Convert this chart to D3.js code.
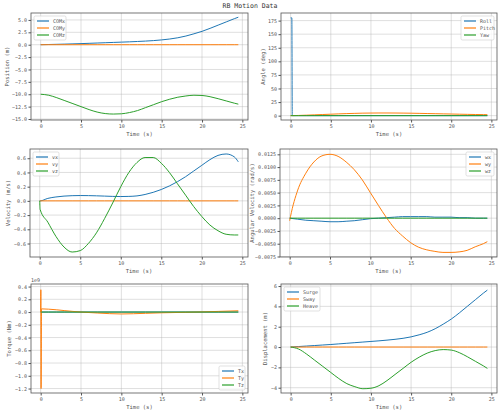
<!DOCTYPE html>
<html><head><meta charset="utf-8">
<script src="https://cdn.jsdelivr.net/npm/d3@7"></script>
<style>body{margin:0;background:#fff}text{font-family:"DejaVu Sans Mono",monospace}</style>
</head><body><svg id="c" width="500" height="413"></svg>
<script>
const T = [0,1,2,3,4,5,6,7,8,9,10,11,12,13,14,15,16,17,18,19,20,21,22,23,24,24.5];
const comX = [0,0.04,0.08,0.12,0.17,0.22,0.28,0.34,0.4,0.46,0.52,0.58,0.65,0.73,0.83,0.97,1.15,1.4,1.75,2.2,2.7,3.3,3.95,4.6,5.25,5.55];
const comY = T.map(()=>0);
const comZ = [-10,-10.2,-10.7,-11.3,-11.9,-12.5,-13.1,-13.6,-13.9,-14.0,-13.95,-13.7,-13.3,-12.7,-12.1,-11.5,-11.0,-10.6,-10.35,-10.2,-10.25,-10.5,-10.9,-11.35,-11.8,-12.0];
const rollT = [0,0.05,0.15,0.2,1,24.5];
const roll = [180,180,180,0,0,0];
const pitch = [0,0.4,0.9,1.5,2.1,2.7,3.3,3.8,4.2,4.6,4.8,4.9,4.9,4.85,4.7,4.5,4.2,3.9,3.6,3.3,3.0,2.7,2.4,2.1,1.9,1.8];
const yaw = T.map(()=>0);
const vT = [0,0.05].concat(T.slice(1));
const vx = [0,0,0.035,0.055,0.067,0.073,0.075,0.074,0.071,0.067,0.063,0.061,0.063,0.07,0.09,0.12,0.16,0.21,0.27,0.34,0.42,0.5,0.58,0.64,0.66,0.62,0.55];
const vy = vT.map(()=>0);
const vz = [0,-0.12,-0.3,-0.5,-0.65,-0.72,-0.7,-0.6,-0.45,-0.25,-0.03,0.2,0.4,0.54,0.61,0.61,0.53,0.4,0.24,0.08,-0.08,-0.22,-0.34,-0.42,-0.47,-0.48,-0.48];
const wx = [0,-0.0002,-0.0004,-0.0005,-0.0006,-0.0007,-0.0007,-0.0006,-0.0005,-0.0003,-0.0001,0,0.0001,0.0002,0.0003,0.0003,0.0003,0.0003,0.0002,0.0002,0.0002,0.0001,0.0001,0,0,0];
const wyT = [0,0.1].concat(T.slice(1));
const wy = [-0.0005,0.0003,0.0055,0.0088,0.011,0.0122,0.0125,0.0121,0.011,0.0095,0.0075,0.005,0.0025,0.0001,-0.002,-0.0035,-0.0048,-0.0057,-0.0062,-0.0065,-0.0067,-0.0067,-0.0066,-0.0063,-0.0056,-0.005,-0.0046];
const wz = T.map(()=>0);
const tqT = [0,0.02,0.05,0.1,1,2,3,4,5,7,10,13,15,18,20,22,24.5];
const tx = tqT.map(()=>0);
const ty = [0,0.35,-1.2,0.05,0.045,0.035,0.022,0.01,0,-0.015,-0.03,-0.02,-0.012,-0.004,0.002,0.01,0.02];
const tz = tqT.map(()=>0);
const surge = [0,0.05,0.1,0.15,0.2,0.25,0.31,0.37,0.43,0.49,0.55,0.61,0.68,0.76,0.86,1.0,1.2,1.45,1.8,2.25,2.75,3.35,4.0,4.65,5.3,5.6];
const sway = T.map(()=>0);
const heave = [0,-0.2,-0.7,-1.3,-1.9,-2.5,-3.1,-3.6,-3.9,-4.1,-4.05,-3.8,-3.3,-2.7,-2.1,-1.5,-1.0,-0.6,-0.35,-0.25,-0.3,-0.55,-0.95,-1.4,-1.85,-2.1];
const xTicks = [0,5,10,15,20,25];
const C = ["#1f77b4","#ff7f0e","#2ca02c"];

const svg = d3.select("#c");
svg.append("text").attr("x",250).attr("y",8).attr("text-anchor","middle").attr("font-size",6.5).attr("fill","#333").text("RB Motion Data");

function panel(o){
  const x = d3.scaleLinear().domain([-1.2,25.7]).range([o.l,o.r]);
  const y = d3.scaleLinear().domain(o.yd).range([o.b,o.t]);
  const g = svg.append("g");
  g.append("rect").attr("x",o.l).attr("y",o.t).attr("width",o.r-o.l).attr("height",o.b-o.t).attr("fill","#fff");
  xTicks.forEach(v=>{g.append("line").attr("x1",x(v)).attr("x2",x(v)).attr("y1",o.t).attr("y2",o.b).attr("stroke","#b0b0b0").attr("stroke-opacity",0.5).attr("stroke-width",0.8);});
  o.yt.forEach(v=>{g.append("line").attr("x1",o.l).attr("x2",o.r).attr("y1",y(v)).attr("y2",y(v)).attr("stroke","#b0b0b0").attr("stroke-opacity",0.5).attr("stroke-width",0.8);});
  const line = d3.line().curve(d3.curveMonotoneX).x(d=>x(d[0])).y(d=>y(d[1]));
  o.series.forEach((s,i)=>{
    g.append("path").attr("d",line(s.t.map((t,j)=>[t,s.v[j]]))).attr("fill","none").attr("stroke",C[i]).attr("stroke-width",s.w||1);
  });
  g.append("rect").attr("x",o.l).attr("y",o.t).attr("width",o.r-o.l).attr("height",o.b-o.t).attr("fill","none").attr("stroke","#555").attr("stroke-width",0.8);
  const xa = g.append("g").attr("transform",`translate(0,${o.b})`).call(d3.axisBottom(x).tickValues(xTicks).tickSize(2.5).tickPadding(1.5));
  const ya = g.append("g").attr("transform",`translate(${o.l},0)`).call(d3.axisLeft(y).tickValues(o.yt).tickFormat(o.fmt).tickSize(2.5).tickPadding(1.5));
  [xa,ya].forEach(a=>{a.select(".domain").remove();a.selectAll("line").attr("stroke","#555");a.selectAll("text").attr("font-size",5).attr("fill","#555").attr("font-family","DejaVu Sans Mono");});
  g.append("text").attr("x",(o.l+o.r)/2).attr("y",o.b+16).attr("text-anchor","middle").attr("font-size",5.5).attr("fill","#555").text("Time (s)");
  g.append("text").attr("transform",`translate(${o.l-o.yo},${(o.t+o.b)/2}) rotate(-90)`).attr("text-anchor","middle").attr("font-size",5.5).attr("fill","#555").text(o.ylab);
  if(o.exp) g.append("text").attr("x",o.l).attr("y",o.t-2).attr("font-size",5).attr("fill","#555").text(o.exp);
  const lw=o.lw, lh=24;
  const lx = o.leg[0]==="r" ? o.r-lw-3 : o.l+3;
  const ly = o.leg[1]==="b" ? o.b-lh-3 : o.t+3;
  g.append("rect").attr("x",lx).attr("y",ly).attr("width",lw).attr("height",lh).attr("rx",1.5).attr("fill","#fff").attr("fill-opacity",0.8).attr("stroke","#ccc").attr("stroke-width",0.6);
  o.series.forEach((s,i)=>{
    const yy = ly+5+i*7;
    g.append("line").attr("x1",lx+3).attr("x2",lx+15).attr("y1",yy).attr("y2",yy).attr("stroke",C[i]).attr("stroke-width",1.2);
    g.append("text").attr("x",lx+19).attr("y",yy+1.8).attr("font-size",5).attr("fill","#555").text(s.n);
  });
}
const f1 = d3.format(".1f");
panel({l:31,r:248,t:13,b:120,yd:[-15.2,6.4],yt:[-15,-12.5,-10,-7.5,-5,-2.5,0,2.5,5],fmt:f1,ylab:"Position (m)",yo:22,leg:"lt",lw:32,
  series:[{n:"COMx",t:T,v:comX},{n:"COMy",t:T,v:comY},{n:"COMz",t:T,v:comZ}]});
panel({l:281,r:497,t:13,b:120,yd:[-8,189],yt:[0,25,50,75,100,125,150,175],fmt:d3.format("d"),ylab:"Angle (deg)",yo:16,leg:"rt",lw:33,
  series:[{n:"Roll",t:rollT,v:roll},{n:"Pitch",t:T,v:pitch},{n:"Yaw",t:T,v:yaw}]});
panel({l:30,r:248,t:149,b:257,yd:[-0.79,0.73],yt:[-0.6,-0.4,-0.2,0,0.2,0.4,0.6],fmt:f1,ylab:"Velocity (m/s)",yo:20,leg:"lt",lw:26,
  series:[{n:"vx",t:vT,v:vx},{n:"vy",t:vT,v:vy},{n:"vz",t:vT,v:vz}]});
panel({l:280,r:497,t:149,b:257,yd:[-0.0076,0.01354],yt:[-0.0075,-0.005,-0.0025,0,0.0025,0.005,0.0075,0.01,0.0125],fmt:d3.format(".4f"),ylab:"Angular Velocity (rad/s)",yo:26,leg:"rt",lw:28,
  series:[{n:"wx",t:T,v:wx},{n:"wy",t:wyT,v:wy},{n:"wz",t:T,v:wz}]});
panel({l:31,r:248,t:284,b:393,yd:[-1.27,0.44],yt:[-1.2,-1,-0.8,-0.6,-0.4,-0.2,0,0.2,0.4],fmt:f1,ylab:"Torque (Nm)",yo:20,leg:"rb",lw:26,exp:"1e9",
  series:[{n:"Tx",t:tqT,v:tx},{n:"Ty",t:tqT,v:ty},{n:"Tz",t:tqT,v:tz}]});
panel({l:281,r:497,t:284,b:393,yd:[-4.52,6.2],yt:[-4,-2,0,2,4,6],fmt:d3.format("d"),ylab:"Displacement (m)",yo:14,leg:"lt",lw:36,
  series:[{n:"Surge",t:T,v:surge},{n:"Sway",t:T,v:sway},{n:"Heave",t:T,v:heave}]});
</script></body></html>
